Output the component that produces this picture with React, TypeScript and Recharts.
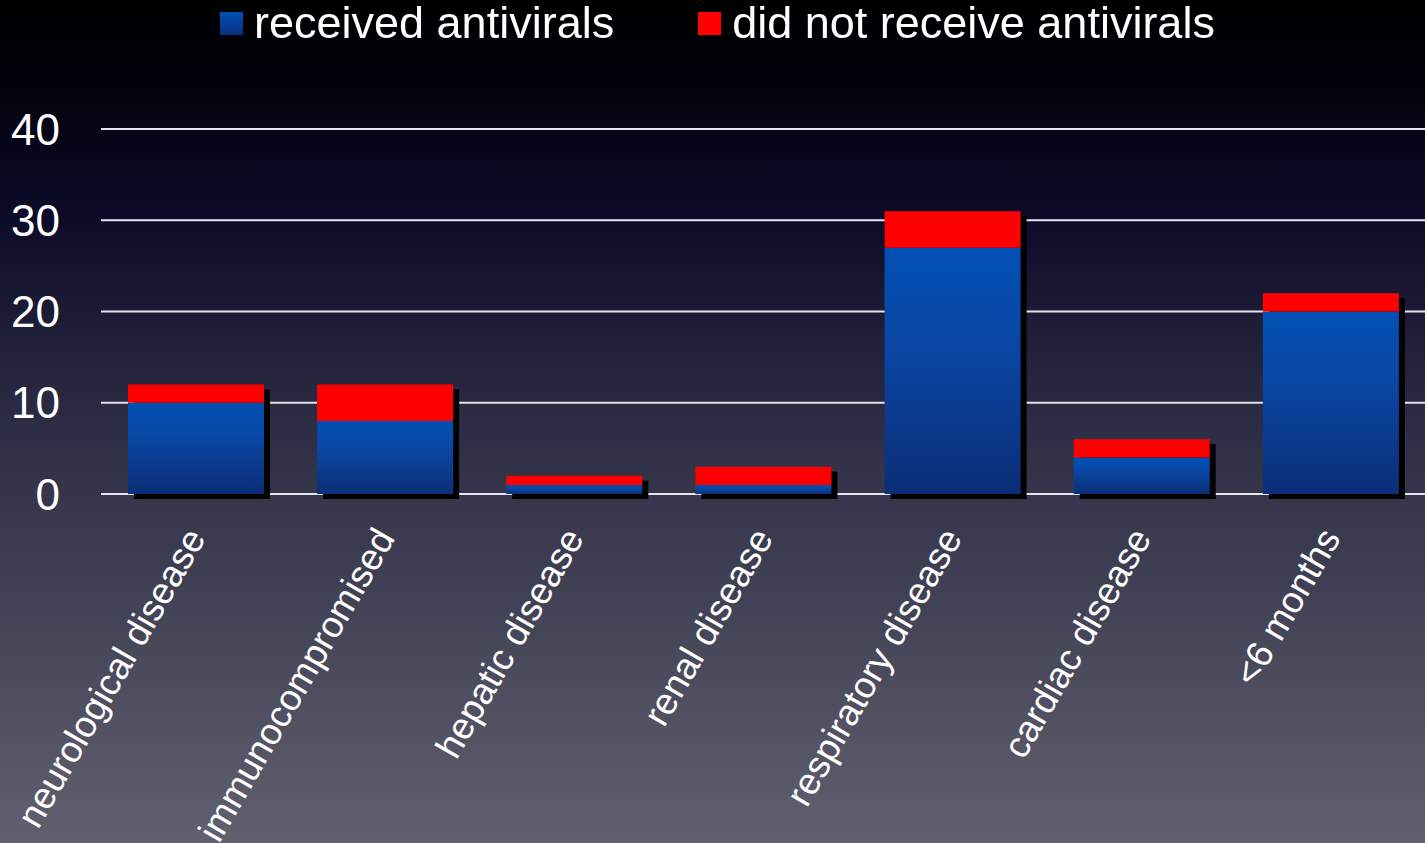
import { Bar, BarChart, CartesianGrid, Legend, XAxis, YAxis } from "recharts";

const categories = [
  "neurological disease",
  "immunocompromised",
  "hepatic disease",
  "renal disease",
  "respiratory disease",
  "cardiac disease",
  "<6 months",
];
const received = [10, 8, 1, 1, 27, 4, 20];
const notReceived = [2, 4, 1, 2, 4, 2, 2];
const yTicks = [0, 10, 20, 30, 40];

const RED = "#ff0000";
const FONT = "'Liberation Sans', Arial, sans-serif";

const data = categories.map((name, i) => ({
  name,
  received: received[i],
  notReceived: notReceived[i],
}));

// blue segment also paints the drop shadow for the whole stack
function ShadowedBar(props: any) {
  const { x, y, width, height, payload } = props;
  if (!height) return null;
  const pxPerUnit = height / payload.received;
  const total = payload.received + payload.notReceived;
  const bottom = y + height;
  const top = bottom - total * pxPerUnit;
  return (
    <g>
      <rect x={x + 6} y={top + 5} width={width} height={bottom - top} fill="#000" />
      <rect x={x} y={y} width={width} height={height} fill="url(#blueFill)" />
    </g>
  );
}

function AngledTick(props: any) {
  const { x, y, payload } = props;
  return (
    <g transform={`translate(${x + 11},${y})`}>
      <text
        transform="rotate(-60)"
        textAnchor="end"
        fill="#fff"
        fontSize={37}
        fontFamily={FONT}
      >
        {payload.value}
      </text>
    </g>
  );
}

function LegendRow() {
  const item = (label: string, bg: string, gap: number) => (
    <div style={{ display: "flex", alignItems: "center", marginRight: gap }}>
      <div style={{ width: 23, height: 23, background: bg, marginRight: 11 }} />
      <span style={{ color: "#fff", fontSize: 45, fontFamily: FONT, lineHeight: "46px" }}>
        {label}
      </span>
    </div>
  );
  return (
    <div style={{ display: "flex", height: 46, paddingLeft: 220 }}>
      {item("received antivirals", "linear-gradient(#0050b4, #0b2f7c)", 84)}
      {item("did not receive antivirals", RED, 0)}
    </div>
  );
}

export default function App() {
  return (
    <div
      style={{
        position: "fixed",
        left: 0,
        top: 0,
        width: 1425,
        height: 843,
        background:
          "linear-gradient(#000000 0%, #000006 6%, #0b0b28 25%, #2c2c44 50%, #60606f 100%)",
      }}
    >
      <BarChart
        width={1425}
        height={843}
        data={data}
        margin={{ top: 83, right: 0, bottom: 0, left: 0 }}
        barSize={136}
      >
        <defs>
          <linearGradient id="blueFill" x1="0" y1="0" x2="0" y2="1">
            <stop offset="0%" stopColor="#0050b4" />
            <stop offset="35%" stopColor="#0a48a6" />
            <stop offset="100%" stopColor="#0b2e78" />
          </linearGradient>
        </defs>
        <Legend
          verticalAlign="top"
          align="left"
          content={() => <LegendRow />}
          wrapperStyle={{ top: 0, left: 0 }}
        />
        <CartesianGrid vertical={false} stroke="#e4e4ee" strokeWidth={2} />
        <XAxis
          dataKey="name"
          height={349}
          axisLine={false}
          tickLine={false}
          tickSize={0}
          tickMargin={44}
          interval={0}
          tick={<AngledTick />}
        />
        <YAxis
          domain={[0, 40]}
          ticks={yTicks}
          width={101}
          axisLine={false}
          tickLine={false}
          tickSize={0}
          tickMargin={41}
          tick={{ fill: "#fff", fontSize: 44, fontFamily: FONT }}
        />
        <Bar
          dataKey="received"
          stackId="a"
          name="received antivirals"
          shape={<ShadowedBar />}
          isAnimationActive={false}
        />
        <Bar
          dataKey="notReceived"
          stackId="a"
          name="did not receive antivirals"
          fill={RED}
          isAnimationActive={false}
        />
      </BarChart>
    </div>
  );
}
